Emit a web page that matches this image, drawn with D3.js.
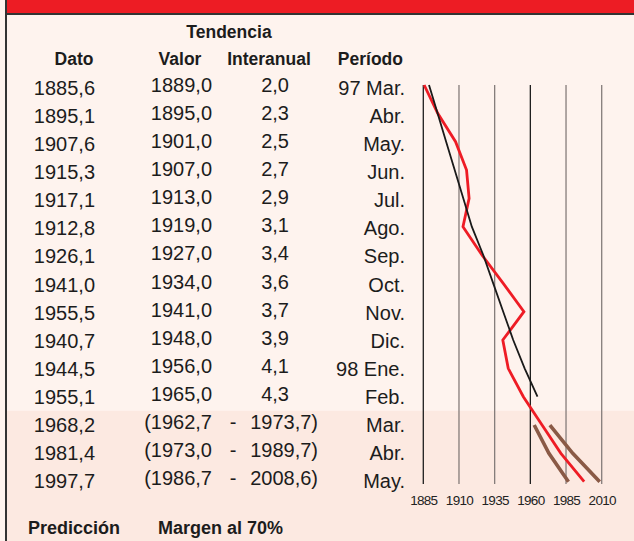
<!DOCTYPE html>
<html>
<head>
<meta charset="utf-8">
<script src="https://cdn.jsdelivr.net/npm/d3@7.9.0/dist/d3.min.js"></script>
<style>
  html, body { margin: 0; padding: 0; background: #fef3ee; }
  svg { display: block; font-family: "Liberation Sans", Arial, Helvetica, sans-serif; }
</style>
</head>
<body>
<svg id="chart" width="634" height="541"></svg>
<script>
// -------- data --------
const periods = ['97 Mar.', 'Abr.', 'May.', 'Jun.', 'Jul.', 'Ago.', 'Sep.', 'Oct.', 'Nov.', 'Dic.',
                 '98 Ene.', 'Feb.', 'Mar.', 'Abr. ', 'May. '];
const dato = [1885.6, 1895.1, 1907.6, 1915.3, 1917.1, 1912.8, 1926.1, 1941.0, 1955.5, 1940.7,
              1944.5, 1955.1, 1968.2, 1981.4, 1997.7];
const trendValue = [1889.0, 1895.0, 1901.0, 1907.0, 1913.0, 1919.0, 1927.0, 1934.0, 1941.0, 1948.0,
                    1956.0, 1965.0];
const interanual = [2.0, 2.3, 2.5, 2.7, 2.9, 3.1, 3.4, 3.6, 3.7, 3.9, 4.1, 4.3];
const lowerMargin = [1962.7, 1973.0, 1986.7];
const upperMargin = [1973.7, 1989.7, 2008.6];
const yearTicks = [1885, 1910, 1935, 1960, 1985, 2010];

const fmt = v => d3.format('.1f')(v).replace('.', ',');
const nObs = trendValue.length;

const svg = d3.select('#chart');
const W = 634, H = 541;

// -------- scales --------
const x = d3.scaleLinear().domain([1885, 2010]).range([423.3, 601.7]);
const y = d3.scalePoint().domain(periods).range([85, 481.7]);      // chart rows
const rowY = d3.scalePoint().domain(periods).range([95, 488]);     // table baselines

// -------- background / frame --------
const splitY = (y(periods[nObs - 1]) + y(periods[nObs])) / 2;
svg.append('rect').attr('x', 0).attr('y', 0).attr('width', W).attr('height', H).attr('fill', '#fef3ee');
svg.append('rect').attr('x', 6).attr('y', splitY).attr('width', W - 6).attr('height', H - splitY).attr('fill', '#fce9e1');
svg.append('rect').attr('x', 6).attr('y', 0).attr('width', W - 6).attr('height', 13.5).attr('fill', '#ed1c24');
svg.append('line').attr('x1', 5).attr('x2', W).attr('y1', 14).attr('y2', 14)
  .attr('stroke', '#333').attr('stroke-width', 2);
svg.append('line').attr('x1', 6).attr('x2', 6).attr('y1', 0).attr('y2', H)
  .attr('stroke', '#333').attr('stroke-width', 2);

// -------- table headers --------
const head = svg.append('g').attr('font-weight', 'bold').attr('font-size', 17.5).attr('fill', '#1c1c1c');
head.append('text').attr('x', 229).attr('y', 38).attr('text-anchor', 'middle').text('Tendencia');
head.append('text').attr('x', 74).attr('y', 65).attr('text-anchor', 'middle').text('Dato');
head.append('text').attr('x', 180).attr('y', 65).attr('text-anchor', 'middle').text('Valor');
head.append('text').attr('x', 269).attr('y', 65).attr('text-anchor', 'middle').text('Interanual');
head.append('text').attr('x', 403).attr('y', 65).attr('text-anchor', 'end').text('Período');

// -------- table rows --------
const body = svg.append('g').attr('font-size', 20).attr('fill', '#1c1c1c');
body.selectAll('text.dato').data(dato).join('text').attr('class', 'dato')
  .attr('x', 95).attr('y', (d, i) => rowY(periods[i])).attr('text-anchor', 'end').text(fmt);
body.selectAll('text.per').data(periods).join('text').attr('class', 'per')
  .attr('x', 405).attr('y', d => rowY(d)).attr('text-anchor', 'end').text(d => d.trim());
body.selectAll('text.val').data(trendValue).join('text').attr('class', 'val')
  .attr('x', 212).attr('y', (d, i) => rowY(periods[i]) - 3).attr('text-anchor', 'end').text(fmt);
body.selectAll('text.ia').data(interanual).join('text').attr('class', 'ia')
  .attr('x', 289).attr('y', (d, i) => rowY(periods[i]) - 3).attr('text-anchor', 'end').text(fmt);

const predRows = lowerMargin.map((lo, i) => ({ lo, hi: upperMargin[i], p: periods[nObs + i] }));
body.selectAll('text.lo').data(predRows).join('text').attr('class', 'lo')
  .attr('x', 212).attr('y', d => rowY(d.p) - 3).attr('text-anchor', 'end').text(d => '(' + fmt(d.lo));
body.selectAll('text.dash').data(predRows).join('text').attr('class', 'dash')
  .attr('x', 233).attr('y', d => rowY(d.p) - 3).attr('text-anchor', 'middle').text('-');
body.selectAll('text.hi').data(predRows).join('text').attr('class', 'hi')
  .attr('x', 318).attr('y', d => rowY(d.p) - 3).attr('text-anchor', 'end').text(d => fmt(d.hi) + ')');

// -------- footer --------
const foot = svg.append('g').attr('font-weight', 'bold').attr('font-size', 18).attr('fill', '#1c1c1c');
foot.append('text').attr('x', 28).attr('y', 534).text('Predicción');
foot.append('text').attr('x', 158).attr('y', 534).text('Margen al 70%');

// -------- chart --------
const grid = svg.append('g');
grid.selectAll('line').data(yearTicks).join('line')
  .attr('x1', d => x(d)).attr('x2', d => x(d))
  .attr('y1', y(periods[0])).attr('y2', 484)
  .attr('stroke', (d, i) => (i % 3 === 0 ? '#1e1e1e' : '#857c7a'))
  .attr('stroke-width', 1.3);

const axis = svg.append('g').attr('transform', 'translate(0,505)')
  .call(d3.axisBottom(x).tickValues(yearTicks).tickFormat(d3.format('d')).tickSize(0).tickPadding(0));
axis.select('.domain').remove();
axis.selectAll('text').attr('y', 0).attr('dy', 0).attr('fill', '#222')
  .attr('font-size', 13.5).attr('letter-spacing', -0.7)
  .attr('font-family', '"Liberation Sans", Arial, sans-serif');

const line = d3.line().x(d => x(d.v)).y(d => y(d.p));

svg.append('path')
  .datum(predRows.map(d => ({ v: d.lo, p: d.p })))
  .attr('d', line).attr('fill', 'none').attr('stroke', '#8a5a46').attr('stroke-width', 3.6);
svg.append('path')
  .datum(predRows.map(d => ({ v: d.hi, p: d.p })))
  .attr('d', line).attr('fill', 'none').attr('stroke', '#8a5a46').attr('stroke-width', 3.6);

svg.append('path')
  .datum(dato.map((v, i) => ({ v, p: periods[i] })))
  .attr('d', line).attr('fill', 'none').attr('stroke', '#ee1c25').attr('stroke-width', 2.8)
  .attr('stroke-linejoin', 'miter');

svg.append('path')
  .datum(trendValue.map((v, i) => ({ v, p: periods[i] })))
  .attr('d', line).attr('fill', 'none').attr('stroke', '#1a1a1a').attr('stroke-width', 1.8);
</script>
</body>
</html>
